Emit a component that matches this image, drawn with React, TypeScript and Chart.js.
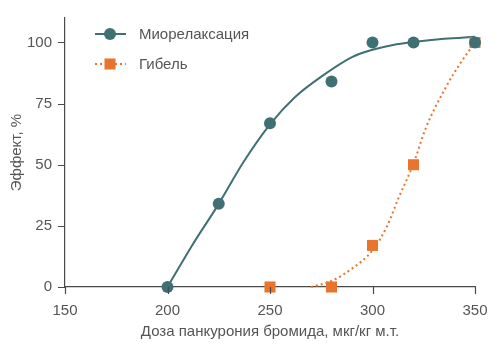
import React, { useEffect, useRef } from "react";
import { Chart, registerables } from "chart.js";

Chart.register(...registerables);

// Measured points
const myoDose = [200, 225, 250, 280, 300, 320, 350];
const myoEffect = [0, 34, 67, 84, 100, 100, 100];
const deathDose = [250, 280, 300, 320, 350];
const deathEffect = [0, 0, 17, 50, 100];

// Fitted curves
const myoFitDose = [200, 212, 225, 237, 250, 262, 275, 290, 300, 310, 320, 335, 350];
const myoFitEffect = [0, 17, 34, 51, 66.5, 77.5, 86, 94, 97, 99, 100.2, 101.5, 102.3];
const deathFitDose = [270, 280, 290, 300, 307, 313, 320, 326, 336, 343, 350];
const deathFitEffect = [0, 2.5, 7.5, 15, 24.7, 37, 50.4, 65, 82, 91.7, 100];

const legendLabels = ["Миорелаксация", "Гибель"];
const xTitle = "Доза панкурония бромида, мкг/кг м.т.";
const yTitle = "Эффект, %";

const TEAL = "#3f7074";
const ORANGE = "#e8742d";
const AXIS = "#4a4a4a";
const TEXT = "#555555";
const FONT = "'Liberation Sans', Arial, sans-serif";
const TICK_LEN = 7;

const zip = (xs: number[], ys: number[]) => xs.map((x, i) => ({ x, y: ys[i] }));

const tickMarksPlugin = {
  id: "tickMarks",
  afterDraw(chart: any) {
    const ctx = chart.ctx;
    const xs = chart.scales.x;
    const ys = chart.scales.y;
    ctx.save();
    ctx.strokeStyle = AXIS;
    ctx.lineWidth = 1.2;
    ctx.beginPath();
    xs.ticks.forEach((t: any) => {
      const px = Math.round(xs.getPixelForValue(t.value)) + 0.5;
      ctx.moveTo(px, xs.top);
      ctx.lineTo(px, xs.top + TICK_LEN);
    });
    ys.ticks.forEach((t: any) => {
      const py = Math.round(ys.getPixelForValue(t.value)) + 0.5;
      ctx.moveTo(ys.right, py);
      ctx.lineTo(ys.right - TICK_LEN, py);
    });
    ctx.stroke();
    ctx.restore();
  },
};

const legendPlugin = {
  id: "insideLegend",
  afterDraw(chart: any) {
    const ctx = chart.ctx;
    const rows = [
      { label: legendLabels[0], color: TEAL, dash: [] as number[], style: "circle", y: 34 },
      { label: legendLabels[1], color: ORANGE, dash: [2, 3], style: "rect", y: 64 },
    ];
    ctx.save();
    rows.forEach((r) => {
      ctx.strokeStyle = r.color;
      ctx.lineWidth = 2;
      ctx.setLineDash(r.dash);
      ctx.beginPath();
      ctx.moveTo(95, r.y);
      ctx.lineTo(126, r.y);
      ctx.stroke();
      ctx.setLineDash([]);
      ctx.fillStyle = r.color;
      if (r.style === "circle") {
        ctx.beginPath();
        ctx.arc(110, r.y, 6, 0, Math.PI * 2);
        ctx.fill();
      } else {
        ctx.fillRect(104.5, r.y - 5.5, 11, 11);
      }
      ctx.fillStyle = TEXT;
      ctx.font = `15px ${FONT}`;
      ctx.textBaseline = "middle";
      ctx.textAlign = "left";
      ctx.fillText(r.label, 139, r.y + 1);
    });
    ctx.restore();
  },
};

export default function App() {
  const ref = useRef<HTMLCanvasElement>(null);
  useEffect(() => {
    document.body.style.margin = "0";
    const chart = new Chart(ref.current as HTMLCanvasElement, {
      type: "scatter",
      data: {
        datasets: [
          {
            label: legendLabels[0],
            data: zip(myoDose, myoEffect),
            showLine: false,
            pointStyle: "circle",
            pointRadius: 6,
            pointBackgroundColor: TEAL,
            pointBorderWidth: 0,
            clip: false,
            order: 0,
          },
          {
            label: legendLabels[1],
            data: zip(deathDose, deathEffect),
            showLine: false,
            pointStyle: "rect",
            pointRadius: 7.8,
            pointBackgroundColor: ORANGE,
            pointBorderWidth: 0,
            clip: false,
            order: 1,
          },
          {
            label: "fit1",
            data: zip(myoFitDose, myoFitEffect),
            showLine: true,
            pointRadius: 0,
            borderColor: TEAL,
            borderWidth: 2,
            cubicInterpolationMode: "monotone",
            clip: false,
            order: 2,
          },
          {
            label: "fit2",
            data: zip(deathFitDose, deathFitEffect),
            showLine: true,
            pointRadius: 0,
            borderColor: ORANGE,
            borderWidth: 2,
            borderDash: [2, 3],
            cubicInterpolationMode: "monotone",
            clip: false,
            order: 3,
          },
        ],
      } as any,
      options: {
        animation: false,
        responsive: false,
        layout: { padding: { top: 18, right: 25, left: 0, bottom: 0 } },
        plugins: { legend: { display: false }, tooltip: { enabled: false } },
        scales: {
          x: {
            type: "linear",
            min: 150,
            max: 350,
            border: { display: true, color: AXIS, width: 1.2 },
            grid: { display: false, drawOnChartArea: false, drawTicks: true, tickLength: TICK_LEN },
            ticks: { stepSize: 50, padding: 8, color: TEXT, font: { size: 15, family: FONT } },
            title: {
              display: true,
              text: xTitle,
              color: TEXT,
              font: { size: 15, family: FONT },
              padding: { top: 0, bottom: 12 },
            },
            afterFit: (s: any) => {
              s.height = 66;
            },
          },
          y: {
            type: "linear",
            min: 0,
            max: 110,
            border: { display: true, color: AXIS, width: 1.2 },
            grid: { display: false, drawOnChartArea: false, drawTicks: true, tickLength: TICK_LEN },
            ticks: {
              stepSize: 25,
              includeBounds: false,
              padding: 6,
              color: TEXT,
              font: { size: 15, family: FONT },
            },
            title: {
              display: true,
              text: yTitle,
              color: TEXT,
              font: { size: 15, family: FONT },
              padding: { top: 8, bottom: 0 },
            },
            afterFit: (s: any) => {
              s.width = 65;
            },
          },
        },
      } as any,
      plugins: [tickMarksPlugin, legendPlugin],
    });
    return () => chart.destroy();
  }, []);
  return (
    <div style={{ width: 500, height: 353 }}>
      <canvas ref={ref} width={500} height={353} />
    </div>
  );
}
